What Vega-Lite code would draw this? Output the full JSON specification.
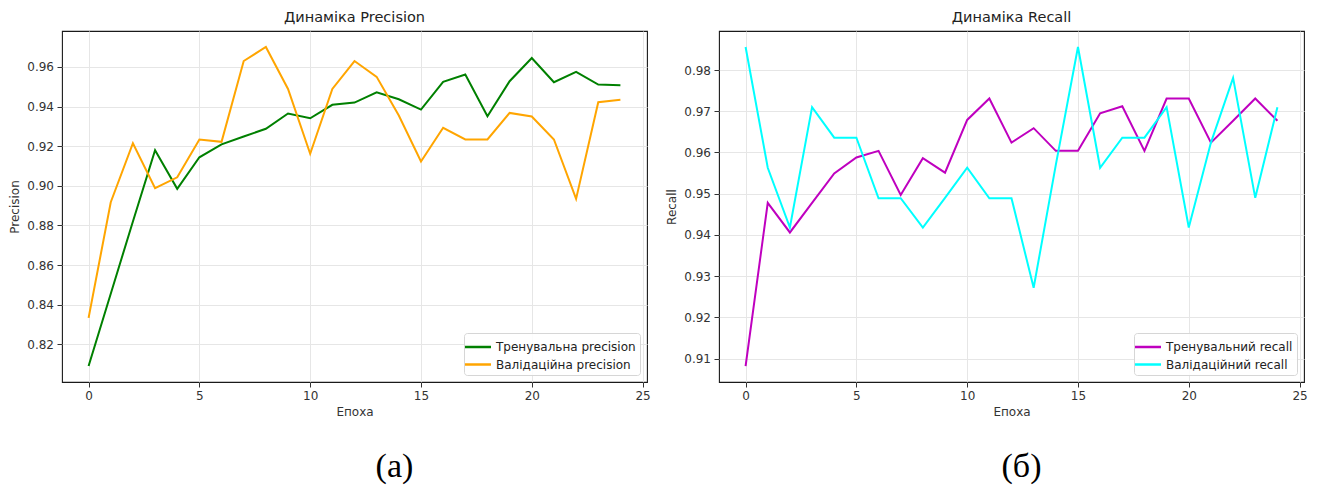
{
  "$schema": "https://vega.github.io/schema/vega-lite/v6.json",
  "background": "white",
  "padding": {"left": 8, "top": 8, "right": 5, "bottom": 0},
  "config": {
    "font": "DejaVu Sans",
    "view": {"stroke": "#1a1a1a", "strokeWidth": 1.1},
    "axis": {
      "labelFont": "DejaVu Sans", "labelFontSize": 12, "labelColor": "#333",
      "titleFont": "DejaVu Sans", "titleFontSize": 12, "titleFontWeight": "normal", "titleColor": "#333",
      "tickColor": "#333", "tickSize": 5, "domain": false, "grid": true, "gridColor": "#e6e6e6",
      "labelPadding": 3.5, "titlePadding": 5
    },
    "title": {"font": "DejaVu Sans", "fontSize": 14.5, "fontWeight": "normal", "color": "#222", "offset": 6}
  },
  "datasets": {
    "precision": [
      {"epoch":0,"series":"Тренувальна precision","value":0.809},
      {"epoch":1,"series":"Тренувальна precision","value":0.8455},
      {"epoch":2,"series":"Тренувальна precision","value":0.882},
      {"epoch":3,"series":"Тренувальна precision","value":0.918},
      {"epoch":4,"series":"Тренувальна precision","value":0.8985},
      {"epoch":5,"series":"Тренувальна precision","value":0.9144},
      {"epoch":6,"series":"Тренувальна precision","value":0.9209},
      {"epoch":7,"series":"Тренувальна precision","value":0.9249},
      {"epoch":8,"series":"Тренувальна precision","value":0.9288},
      {"epoch":9,"series":"Тренувальна precision","value":0.9365},
      {"epoch":10,"series":"Тренувальна precision","value":0.9341},
      {"epoch":11,"series":"Тренувальна precision","value":0.9409},
      {"epoch":12,"series":"Тренувальна precision","value":0.942},
      {"epoch":13,"series":"Тренувальна precision","value":0.9472},
      {"epoch":14,"series":"Тренувальна precision","value":0.9437},
      {"epoch":15,"series":"Тренувальна precision","value":0.9385},
      {"epoch":16,"series":"Тренувальна precision","value":0.9525},
      {"epoch":17,"series":"Тренувальна precision","value":0.9562},
      {"epoch":18,"series":"Тренувальна precision","value":0.9351},
      {"epoch":19,"series":"Тренувальна precision","value":0.9528},
      {"epoch":20,"series":"Тренувальна precision","value":0.9645},
      {"epoch":21,"series":"Тренувальна precision","value":0.9523},
      {"epoch":22,"series":"Тренувальна precision","value":0.9575},
      {"epoch":23,"series":"Тренувальна precision","value":0.9511},
      {"epoch":24,"series":"Тренувальна precision","value":0.9508},
      {"epoch":0,"series":"Валідаційна precision","value":0.8333},
      {"epoch":1,"series":"Валідаційна precision","value":0.8917},
      {"epoch":2,"series":"Валідаційна precision","value":0.9215},
      {"epoch":3,"series":"Валідаційна precision","value":0.8988},
      {"epoch":4,"series":"Валідаційна precision","value":0.9043},
      {"epoch":5,"series":"Валідаційна precision","value":0.9234},
      {"epoch":6,"series":"Валідаційна precision","value":0.9222},
      {"epoch":7,"series":"Валідаційна precision","value":0.963},
      {"epoch":8,"series":"Валідаційна precision","value":0.9701},
      {"epoch":9,"series":"Валідаційна precision","value":0.9489},
      {"epoch":10,"series":"Валідаційна precision","value":0.9162},
      {"epoch":11,"series":"Валідаційна precision","value":0.9489},
      {"epoch":12,"series":"Валідаційна precision","value":0.963},
      {"epoch":13,"series":"Валідаційна precision","value":0.955},
      {"epoch":14,"series":"Валідаційна precision","value":0.9355},
      {"epoch":15,"series":"Валідаційна precision","value":0.9123},
      {"epoch":16,"series":"Валідаційна precision","value":0.9293},
      {"epoch":17,"series":"Валідаційна precision","value":0.9234},
      {"epoch":18,"series":"Валідаційна precision","value":0.9234},
      {"epoch":19,"series":"Валідаційна precision","value":0.9368},
      {"epoch":20,"series":"Валідаційна precision","value":0.935},
      {"epoch":21,"series":"Валідаційна precision","value":0.9234},
      {"epoch":22,"series":"Валідаційна precision","value":0.8934},
      {"epoch":23,"series":"Валідаційна precision","value":0.9422},
      {"epoch":24,"series":"Валідаційна precision","value":0.9435}
    ],
    "recall": [
      {"epoch":0,"series":"Тренувальний recall","value":0.9082},
      {"epoch":1,"series":"Тренувальний recall","value":0.9478},
      {"epoch":2,"series":"Тренувальний recall","value":0.9406},
      {"epoch":3,"series":"Тренувальний recall","value":0.9478},
      {"epoch":4,"series":"Тренувальний recall","value":0.9549},
      {"epoch":5,"series":"Тренувальний recall","value":0.9588},
      {"epoch":6,"series":"Тренувальний recall","value":0.9604},
      {"epoch":7,"series":"Тренувальний recall","value":0.9497},
      {"epoch":8,"series":"Тренувальний recall","value":0.9586},
      {"epoch":9,"series":"Тренувальний recall","value":0.9551},
      {"epoch":10,"series":"Тренувальний recall","value":0.9679},
      {"epoch":11,"series":"Тренувальний recall","value":0.9731},
      {"epoch":12,"series":"Тренувальний recall","value":0.9624},
      {"epoch":13,"series":"Тренувальний recall","value":0.9659},
      {"epoch":14,"series":"Тренувальний recall","value":0.9604},
      {"epoch":15,"series":"Тренувальний recall","value":0.9604},
      {"epoch":16,"series":"Тренувальний recall","value":0.9695},
      {"epoch":17,"series":"Тренувальний recall","value":0.9712},
      {"epoch":18,"series":"Тренувальний recall","value":0.9604},
      {"epoch":19,"series":"Тренувальний recall","value":0.9731},
      {"epoch":20,"series":"Тренувальний recall","value":0.9731},
      {"epoch":21,"series":"Тренувальний recall","value":0.9624},
      {"epoch":22,"series":"Тренувальний recall","value":0.9677},
      {"epoch":23,"series":"Тренувальний recall","value":0.9731},
      {"epoch":24,"series":"Тренувальний recall","value":0.9677},
      {"epoch":0,"series":"Валідаційний recall","value":0.9856},
      {"epoch":1,"series":"Валідаційний recall","value":0.9563},
      {"epoch":2,"series":"Валідаційний recall","value":0.9418},
      {"epoch":3,"series":"Валідаційний recall","value":0.971},
      {"epoch":4,"series":"Валідаційний recall","value":0.9636},
      {"epoch":5,"series":"Валідаційний recall","value":0.9636},
      {"epoch":6,"series":"Валідаційний recall","value":0.9489},
      {"epoch":7,"series":"Валідаційний recall","value":0.9489},
      {"epoch":8,"series":"Валідаційний recall","value":0.9418},
      {"epoch":9,"series":"Валідаційний recall","value":0.949},
      {"epoch":10,"series":"Валідаційний recall","value":0.9563},
      {"epoch":11,"series":"Валідаційний recall","value":0.9489},
      {"epoch":12,"series":"Валідаційний recall","value":0.9489},
      {"epoch":13,"series":"Валідаційний recall","value":0.9272},
      {"epoch":14,"series":"Валідаційний recall","value":0.957},
      {"epoch":15,"series":"Валідаційний recall","value":0.9856},
      {"epoch":16,"series":"Валідаційний recall","value":0.9563},
      {"epoch":17,"series":"Валідаційний recall","value":0.9636},
      {"epoch":18,"series":"Валідаційний recall","value":0.9636},
      {"epoch":19,"series":"Валідаційний recall","value":0.971},
      {"epoch":20,"series":"Валідаційний recall","value":0.9418},
      {"epoch":21,"series":"Валідаційний recall","value":0.9624},
      {"epoch":22,"series":"Валідаційний recall","value":0.9781},
      {"epoch":23,"series":"Валідаційний recall","value":0.949},
      {"epoch":24,"series":"Валідаційний recall","value":0.971}
    ]
  },
  "spacing": 14,
  "resolve": {"scale": {"color": "independent"}, "legend": {"color": "independent"}},
  "hconcat": [
    {
      "title": {"text": "(а)", "orient": "bottom", "anchor": "middle", "font": "Liberation Serif", "fontSize": 34, "fontWeight": "normal", "color": "#000", "offset": 32, "dx": 65},
      "resolve": {"scale": {"color": "independent"}, "legend": {"color": "independent"}},
      "vconcat": [
        {
          "width": 585, "height": 351,
          "title": {"text": "Динаміка Precision"},
          "data": {"name": "precision"},
          "mark": {"type": "line", "strokeWidth": 2},
          "encoding": {
            "x": {"field": "epoch", "type": "quantitative", "scale": {"domain": [-1.2, 25.2], "nice": false, "zero": false}, "axis": {"title": "Епоха", "values": [0, 5, 10, 15, 20, 25]}},
            "y": {"field": "value", "type": "quantitative", "scale": {"domain": [0.80094, 0.97816], "nice": false, "zero": false}, "axis": {"title": "Precision", "values": [0.82, 0.84, 0.86, 0.88, 0.9, 0.92, 0.94, 0.96], "format": ".2f"}},
            "color": {"field": "series", "type": "nominal",
              "scale": {"domain": ["Тренувальна precision", "Валідаційна precision"], "range": ["#008000", "#FFA500"]},
              "legend": {"title": null, "orient": "bottom-right", "offset": 7, "symbolType": "M-1.5,0H1.5", "symbolSize": 300, "symbolStrokeWidth": 2.5, "labelFont": "DejaVu Sans", "labelFontSize": 12, "labelColor": "#222", "labelOffset": 8, "strokeColor": "#d6d6d6", "fillColor": "rgba(255,255,255,0.85)", "cornerRadius": 3, "padding": 4, "rowPadding": 1.5}}
          }
        }
      ]
    },
    {
      "title": {"text": "(б)", "orient": "bottom", "anchor": "middle", "font": "Liberation Serif", "fontSize": 34, "fontWeight": "normal", "color": "#000", "offset": 32, "dx": 35},
      "resolve": {"scale": {"color": "independent"}, "legend": {"color": "independent"}},
      "vconcat": [
        {
          "width": 585, "height": 351,
          "title": {"text": "Динаміка Recall"},
          "data": {"name": "recall"},
          "mark": {"type": "line", "strokeWidth": 2},
          "encoding": {
            "x": {"field": "epoch", "type": "quantitative", "scale": {"domain": [-1.2, 25.2], "nice": false, "zero": false}, "axis": {"title": "Епоха", "values": [0, 5, 10, 15, 20, 25]}},
            "y": {"field": "value", "type": "quantitative", "scale": {"domain": [0.90433, 0.98947], "nice": false, "zero": false}, "axis": {"title": "Recall", "values": [0.91, 0.92, 0.93, 0.94, 0.95, 0.96, 0.97, 0.98], "format": ".2f"}},
            "color": {"field": "series", "type": "nominal",
              "scale": {"domain": ["Тренувальний recall", "Валідаційний recall"], "range": ["#BF00BF", "#00FFFF"]},
              "legend": {"title": null, "orient": "bottom-right", "offset": 7, "symbolType": "M-1.5,0H1.5", "symbolSize": 300, "symbolStrokeWidth": 2.5, "labelFont": "DejaVu Sans", "labelFontSize": 12, "labelColor": "#222", "labelOffset": 8, "strokeColor": "#d6d6d6", "fillColor": "rgba(255,255,255,0.85)", "cornerRadius": 3, "padding": 4, "rowPadding": 1.5}}
          }
        }
      ]
    }
  ]
}
